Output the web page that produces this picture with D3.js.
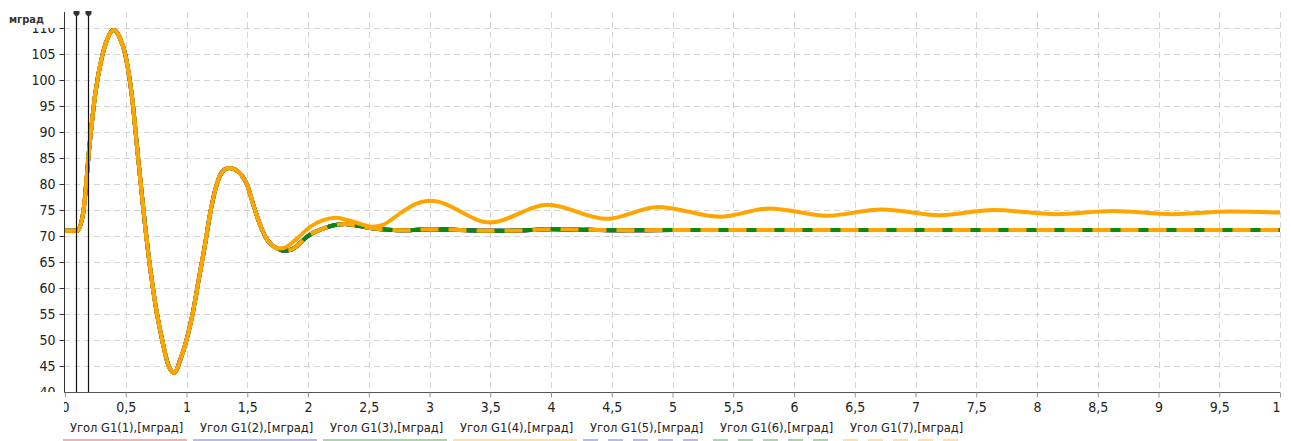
<!DOCTYPE html>
<html>
<head>
    <meta charset='utf-8' />
    <title>Угол G1</title>
    <script src="https://cdn.jsdelivr.net/npm/d3@7"></script>
    <style>
        body {
            margin: 0;
            padding: 0;
            background: #fff;
        }

        svg text {
            font-family: "DejaVu Sans Condensed", "DejaVu Sans", sans-serif;
            fill: #222;
        }

        .grid line {
            stroke: #d4d4d4;
            stroke-dasharray: 6, 4;
        }
    </style>
</head>
<body>
    <svg id='chart' width='1291' height='441'></svg>
    <script>
        // общая часть переходного процесса (все серии совпадают)
        var timeCommon = [0, 0.05, 0.1, 0.15, 0.2, 0.25, 0.3, 0.35, 0.4, 0.45, 0.5, 0.55, 0.6, 0.65, 0.7, 0.75,
            0.8, 0.85, 0.9, 0.95, 1.0, 1.05, 1.1, 1.15, 1.2, 1.25, 1.3, 1.35, 1.4, 1.45, 1.5, 1.55, 1.6, 1.65, 1.7, 1.75];
        var angleCommon = [71, 71, 71, 74.5, 87, 97.5, 104, 108, 109.6, 108.2, 104.5, 97, 85.5, 74, 64, 56,
            50, 45.2, 43.7, 46.3, 50, 55, 61.5, 68, 75, 80, 82.5, 83.1, 82.8, 81.8, 79.8, 76, 72.5, 69.8, 68.3, 67.6];

        // затухающие серии
        var timeLow = [1.8, 1.85, 1.9, 1.95, 2.0, 2.1, 2.2, 2.3, 2.4, 2.5, 2.6, 2.8, 3.0, 3.2, 3.5, 3.8, 4.0, 4.3,
            4.6, 5, 6, 7, 8, 9, 10];
        var angleLow = [67.2, 67.3, 67.9, 69, 70, 71.2, 72, 72.3, 72, 71.6, 71.3, 71.1, 71.3, 71.2, 71.0, 71.1, 71.3, 71.2,
            71.1, 71.15, 71.15, 71.15, 71.15, 71.15, 71.15];

        // серия с незатухающими колебаниями
        var timeHigh = [1.8, 1.9, 2.02, 2.12, 2.23, 2.35, 2.53, 2.62, 2.76, 2.89, 3.01, 3.5, 3.97, 4.46, 4.88, 5.39,
            5.8, 6.27, 6.72, 7.2, 7.64, 8.16, 8.63, 9.12, 9.59, 10];
        var angleHigh = [67.7, 69.3, 71.8, 73.0, 73.5, 72.9, 71.8, 72.2, 74.4, 76.2, 76.8, 72.6, 76.0, 73.3, 75.6, 73.7,
            75.3, 73.9, 75.1, 74.0, 75.0, 74.2, 74.8, 74.2, 74.7, 74.5];

        var seriesNames = ["Угол G1(1),[мград]", "Угол G1(2),[мград]", "Угол G1(3),[мград]", "Угол G1(4),[мград]",
            "Угол G1(5),[мград]", "Угол G1(6),[мград]", "Угол G1(7),[мград]"];
        var seriesBranch = ["low", "low", "low", "high", "low", "low", "low"];
        var seriesColors = ["#e02020", "#3434c8", "#0a8a0a", "#ffa500", "#3434c8", "#0a8a0a", "#ffa500"];
        var seriesDash = [null, null, null, null, "14,10", "10,18", "18,10"];

        var xTicks = d3.range(0, 10.01, 0.5);
        var yTicks = d3.range(40, 111, 5);
        var markerTimes = [0.1, 0.2];

        var svg = d3.select('#chart');
        var pLeft = 64, pRight = 1280, pTop = 12, pBottom = 392;

        var x = d3.scaleLinear().domain([0, 10]).range([pLeft + 1, pRight]);
        var y = d3.scaleLinear().domain([40, 40 + (pBottom - pTop) / 5.2]).range([pBottom, pTop]);

        var fmt = function (d) { return String(d).replace('.', ','); };

        var defs = svg.append('defs');
        defs.append('clipPath').attr('id', 'plotClip')
            .append('rect').attr('x', pLeft).attr('y', pTop).attr('width', pRight - pLeft + 1).attr('height', pBottom - pTop);
        // в локальных координатах оси X (сдвинута на pBottom)
        defs.append('clipPath').attr('id', 'xClip')
            .append('rect').attr('x', pLeft).attr('y', -2).attr('width', pRight - pLeft + 1).attr('height', 30);
        // в локальных координатах оси Y (сдвинута на pLeft)
        defs.append('clipPath').attr('id', 'yClip')
            .append('rect').attr('x', -pLeft).attr('y', 0).attr('width', pLeft + 2).attr('height', pBottom);

        // сетка
        svg.append('g').attr('class', 'grid')
            .selectAll('line').data(xTicks.slice(1)).enter().append('line')
            .attr('x1', function (d) { return Math.round(x(d)) + 0.5; })
            .attr('x2', function (d) { return Math.round(x(d)) + 0.5; })
            .attr('y1', pTop).attr('y2', pBottom);
        svg.append('g').attr('class', 'grid')
            .selectAll('line').data(yTicks.slice(1)).enter().append('line')
            .attr('y1', function (d) { return Math.round(y(d)) + 0.5; })
            .attr('y2', function (d) { return Math.round(y(d)) + 0.5; })
            .attr('x1', pLeft).attr('x2', pRight);

        // оси
        var xAxis = svg.append('g').attr('transform', 'translate(0,' + (pBottom + 0.5) + ')')
            .attr('clip-path', 'url(#xClip)')
            .call(d3.axisBottom(x).tickValues(xTicks).tickFormat(fmt).tickSize(5).tickSizeOuter(0));
        xAxis.select('.domain').attr('stroke', '#555').attr('d', 'M' + pLeft + ',0H' + pRight);
        xAxis.selectAll('.tick line').attr('stroke', '#999');
        xAxis.selectAll('.tick text').attr('font-size', 14).attr('dy', '0.85em');

        var yAxis = svg.append('g').attr('transform', 'translate(' + (pLeft + 0.5) + ',0)')
            .attr('clip-path', 'url(#yClip)')
            .call(d3.axisLeft(y).tickValues(yTicks).tickFormat(fmt).tickSize(5).tickSizeOuter(0));
        yAxis.select('.domain').attr('stroke', '#333').attr('d', 'M0,' + pTop + 'V' + pBottom);
        yAxis.selectAll('.tick line').attr('stroke', '#333');
        yAxis.selectAll('.tick text').attr('font-size', 14).attr('x', -9);

        // серии
        function seriesData(branch) {
            var t = timeCommon.concat(branch == "high" ? timeHigh : timeLow);
            var v = angleCommon.concat(branch == "high" ? angleHigh : angleLow);
            return t.map(function (d, i) { return [d, v[i]]; });
        }

        var line = d3.line()
            .x(function (d) { return x(d[0]); })
            .y(function (d) { return y(d[1]); })
            .curve(d3.curveMonotoneX);

        var plot = svg.append('g').attr('clip-path', 'url(#plotClip)');
        var drawOrder = [0, 1, 4, 2, 5, 6, 3];
        drawOrder.forEach(function (i) {
            plot.append('path')
                .datum(seriesData(seriesBranch[i]))
                .attr('d', line)
                .attr('fill', 'none')
                .attr('stroke', seriesColors[i])
                .attr('stroke-width', 4)
                .attr('stroke-linejoin', 'round')
                .attr('stroke-dasharray', seriesDash[i]);
        });

        // маркеры времени
        var markers = svg.append('g');
        markerTimes.forEach(function (t) {
            var mx = Math.round(x(t)) - 0.5;
            markers.append('line')
                .attr('x1', mx).attr('x2', mx).attr('y1', pTop).attr('y2', pBottom)
                .attr('stroke', '#111').attr('stroke-width', 1.2);
            markers.append('path')
                .attr('d', 'M' + (mx - 3) + ',' + (pTop - 1) + 'h6v3l-3,3l-3,-3z')
                .attr('fill', '#333');
        });

        // подпись единиц
        svg.append('rect').attr('x', 0).attr('y', 0).attr('width', 56).attr('height', 28).attr('fill', '#fff');
        svg.append('text').attr('x', 9).attr('y', 23)
            .attr('font-size', 11).attr('font-weight', 'bold').style('fill', '#333')
            .text('мград');

        // легенда
        var legend = svg.append('g');
        seriesNames.forEach(function (name, i) {
            var lx = 70 + 130 * i;
            legend.append('text').attr('x', lx).attr('y', 432)
                .attr('font-size', 11.5)
                .style('font-family', '"DejaVu Sans", sans-serif')
                .text(name);
            legend.append('line')
                .attr('x1', lx - 7).attr('x2', lx + 117).attr('y1', 440.5).attr('y2', 440.5)
                .attr('stroke', seriesColors[i]).attr('stroke-opacity', 0.35)
                .attr('stroke-width', 3)
                .attr('stroke-dasharray', seriesDash[i] ? "15,10" : null);
        });
    </script>
</body>
</html>
